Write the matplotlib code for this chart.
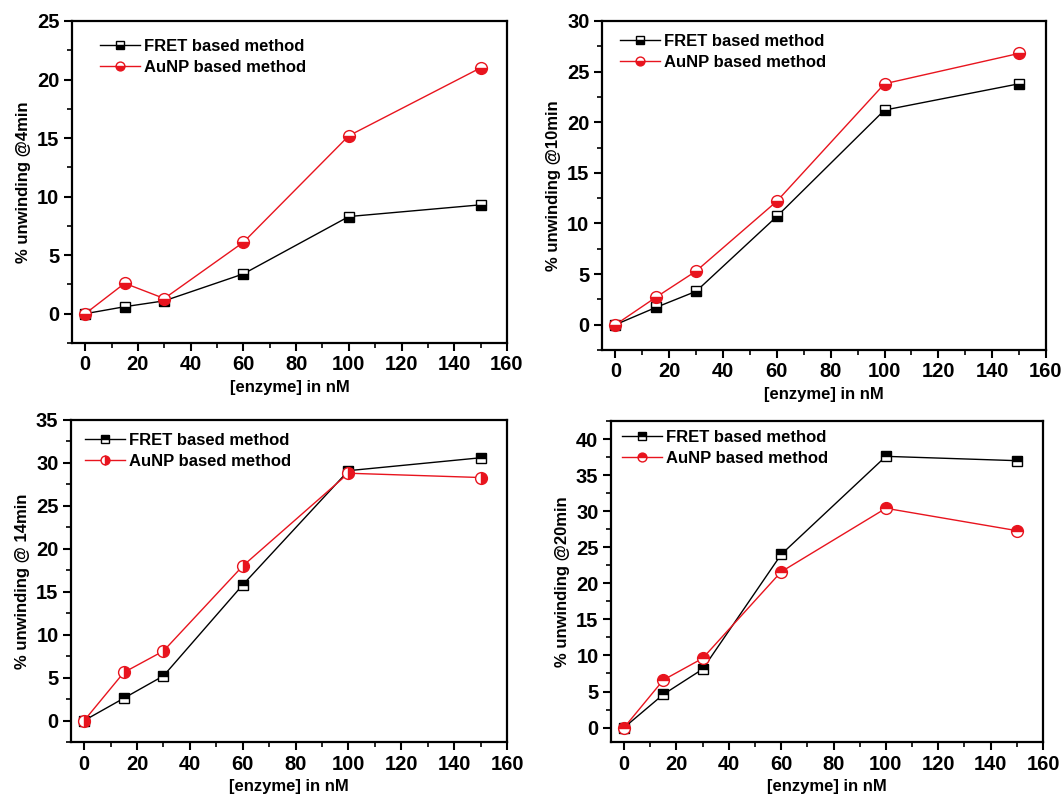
"""Four panels: % unwinding vs enzyme concentration, FRET vs AuNP method."""

import matplotlib
matplotlib.use("Agg")
import matplotlib.pyplot as plt
from matplotlib.ticker import MultipleLocator

plt.rcParams["font.family"] = ["Liberation Sans", "DejaVu Sans"]
plt.rcParams["font.weight"] = "bold"

enzyme_nm = [0, 15, 30, 60, 100, 150]

fret_4min = [0, 0.6, 1.1, 3.4, 8.3, 9.3]
aunp_4min = [0, 2.6, 1.3, 6.1, 15.2, 21.0]

fret_10min = [0, 1.7, 3.3, 10.7, 21.2, 23.8]
aunp_10min = [0, 2.7, 5.3, 12.2, 23.8, 26.8]

fret_14min = [0, 2.6, 5.2, 15.8, 29.1, 30.6]
aunp_14min = [0, 5.6, 8.1, 18.0, 28.8, 28.3]

fret_20min = [0, 4.6, 8.1, 24.0, 37.6, 37.0]
aunp_20min = [0, 6.6, 9.6, 21.6, 30.4, 27.3]

y_labels = ["% unwinding @4min", "% unwinding @10min",
            "% unwinding @ 14min", "% unwinding @20min"]

RED = "#e8141e"

# (left, top, width, height) in pixels of a 1063x796 canvas
W, H = 1063, 796
panel_px = [
    (72, 21, 435, 322),
    (602, 21, 444, 329),
    (71, 420, 436, 322),
    (611, 421, 432, 321),
]
# legend offset from the axes' top-left corner, pixels
legend_px = [(28, 18), (18, 13), (14, 13), (11, 9)]
ylims = [(-2.5, 25), (-2.5, 30), (-2.5, 35), (-2, 42.5)]
fret_fill = ["bottom", "bottom", "top", "top"]
aunp_fill = ["bottom", "bottom", "right", "top"]
series = [
    (fret_4min, aunp_4min),
    (fret_10min, aunp_10min),
    (fret_14min, aunp_14min),
    (fret_20min, aunp_20min),
]

fig = plt.figure(figsize=(W / 100, H / 100), dpi=100)

for i, (l, t, w, h) in enumerate(panel_px):
    ax = fig.add_axes([l / W, 1 - (t + h) / H, w / W, h / H])
    fret, aunp = series[i]
    ax.plot(enzyme_nm, fret, color="black", lw=1.0, marker="s", ms=7,
            fillstyle=fret_fill[i], markerfacecolor="black",
            markerfacecoloralt="white", markeredgecolor="black",
            markeredgewidth=1.0, label="FRET based method", zorder=3)
    ax.plot(enzyme_nm, aunp, color=RED, lw=1.0, marker="o", ms=8.5,
            fillstyle=aunp_fill[i], markerfacecolor=RED,
            markerfacecoloralt="white", markeredgecolor=RED,
            markeredgewidth=1.0, label="AuNP based method", zorder=4)

    ax.set_xlim(-5, 160)
    ax.set_ylim(*ylims[i])
    ax.xaxis.set_major_locator(MultipleLocator(20))
    ax.xaxis.set_minor_locator(MultipleLocator(10))
    ax.yaxis.set_major_locator(MultipleLocator(5))
    ax.yaxis.set_minor_locator(MultipleLocator(2.5))
    ax.tick_params(which="major", direction="out", length=6, width=1.5,
                   labelsize=14.5, pad=3)
    ax.tick_params(which="minor", direction="out", length=3.5, width=1.2)
    for sp in ax.spines.values():
        sp.set_linewidth(1.6)
    for lab in ax.get_xticklabels() + ax.get_yticklabels():
        lab.set_fontweight("bold")

    ax.set_xlabel("[enzyme] in nM", fontsize=12, fontweight="bold", labelpad=4)
    ax.set_ylabel(y_labels[i], fontsize=12, fontweight="bold", labelpad=4)
    dx, dy = legend_px[i]
    ax.legend(loc="upper left", frameon=False,
              bbox_to_anchor=(dx / w, 1 - dy / h), borderaxespad=0,
              borderpad=0, handlelength=2.4, handletextpad=0.25,
              labelspacing=0.35, markerscale=0.75,
              prop={"weight": "bold", "size": 12})

fig.savefig("out.png", dpi=100)
plt.close(fig)
